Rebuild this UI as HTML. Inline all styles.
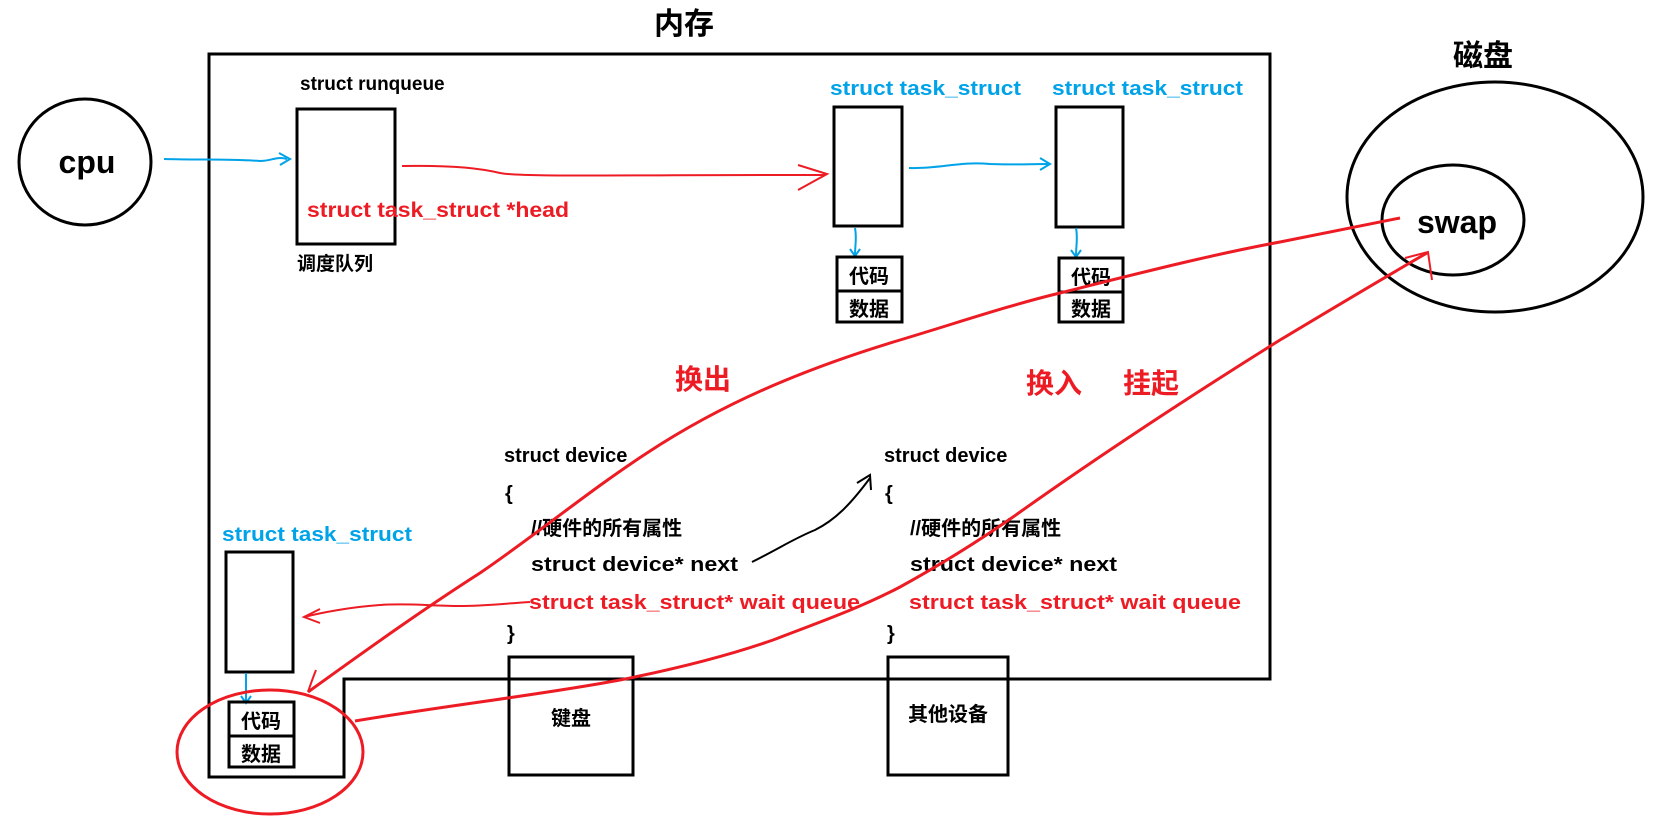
<!DOCTYPE html>
<html><head><meta charset="utf-8"><style>
html,body{margin:0;padding:0;background:#fff;}
svg{display:block;}
text{font-family:"Liberation Sans","Noto Sans CJK SC",sans-serif;font-weight:bold;}
</style></head><body>
<svg width="1664" height="816" viewBox="0 0 1664 816" xmlns="http://www.w3.org/2000/svg">
<rect width="1664" height="816" fill="#fff"/>
<!-- memory box -->
<path d="M209,54 H1270 V679 H344 V777 H209 Z" fill="none" stroke="#000" stroke-width="3"/>
<text x="684" y="34" font-size="30" text-anchor="middle" fill="#000">内存</text>
<!-- cpu -->
<ellipse cx="85" cy="162" rx="66" ry="63" fill="none" stroke="#000" stroke-width="3"/>
<text x="87" y="173" font-size="32" text-anchor="middle" fill="#000">cpu</text>
<path d="M164,159 C200,160 230,159 260,161 C272,161 276,156 287,159" fill="none" stroke="#00a2e8" stroke-width="2"/>
<path d="M279,153 L290,159 L280,165" fill="none" stroke="#00a2e8" stroke-width="2"/>
<!-- runqueue -->
<text x="300" y="90" font-size="19" fill="#000">struct runqueue</text>
<rect x="297" y="109" width="98" height="135" fill="none" stroke="#000" stroke-width="3"/>
<text x="307" y="217" font-size="21" fill="#ed1c24" textLength="262" lengthAdjust="spacingAndGlyphs">struct task_struct *head</text>
<text x="297" y="270" font-size="19" fill="#000">调度队列</text>
<path d="M402,166 C450,165 480,168 500,173 C520,177 600,175 825,175" fill="none" stroke="#ed1c24" stroke-width="2"/>
<path d="M798,165 L827,174 L798,190" fill="none" stroke="#ed1c24" stroke-width="2"/>
<!-- task structs top -->
<text x="830" y="95" font-size="20" fill="#00a2e8" textLength="191" lengthAdjust="spacingAndGlyphs">struct task_struct</text>
<text x="1052" y="95" font-size="20" fill="#00a2e8" textLength="191" lengthAdjust="spacingAndGlyphs">struct task_struct</text>
<rect x="834" y="107" width="68" height="119" fill="none" stroke="#000" stroke-width="3"/>
<rect x="1056" y="107" width="67" height="120" fill="none" stroke="#000" stroke-width="3"/>
<path d="M909,168 C940,169 960,161 990,164 C1010,165 1030,164 1050,164" fill="none" stroke="#00a2e8" stroke-width="2"/>
<path d="M1040,158 L1050,164 L1040,170" fill="none" stroke="#00a2e8" stroke-width="2"/>
<path d="M855,228 C857,238 855,246 855,255" fill="none" stroke="#00a2e8" stroke-width="2"/>
<path d="M850,249 L855,256 L860,249" fill="none" stroke="#00a2e8" stroke-width="2"/>
<path d="M1076,228 C1078,238 1076,246 1076,256" fill="none" stroke="#00a2e8" stroke-width="2"/>
<path d="M1071,250 L1076,257 L1081,250" fill="none" stroke="#00a2e8" stroke-width="2"/>
<rect x="837" y="257" width="65" height="65" fill="none" stroke="#000" stroke-width="3"/>
<line x1="837" y1="291" x2="902" y2="291" stroke="#000" stroke-width="3"/>
<text x="869" y="283" font-size="20" text-anchor="middle" fill="#000">代码</text>
<text x="869" y="316" font-size="20" text-anchor="middle" fill="#000">数据</text>
<rect x="1059" y="258" width="64" height="64" fill="none" stroke="#000" stroke-width="3"/>
<line x1="1059" y1="292" x2="1123" y2="292" stroke="#000" stroke-width="3"/>
<text x="1091" y="284" font-size="20" text-anchor="middle" fill="#000">代码</text>
<text x="1091" y="316" font-size="20" text-anchor="middle" fill="#000">数据</text>
<!-- disk -->
<text x="1483" y="66" font-size="30" text-anchor="middle" fill="#000">磁盘</text>
<ellipse cx="1495" cy="197" rx="148" ry="115" fill="none" stroke="#000" stroke-width="3"/>
<ellipse cx="1453" cy="220" rx="71" ry="55" fill="none" stroke="#000" stroke-width="3"/>
<text x="1457" y="233" font-size="32" text-anchor="middle" fill="#000">swap</text>
<!-- labels -->
<text x="703" y="389" font-size="28" text-anchor="middle" fill="#ed1c24">换出</text>
<text x="1054" y="393" font-size="28" text-anchor="middle" fill="#ed1c24">换入</text>
<text x="1151" y="393" font-size="28" text-anchor="middle" fill="#ed1c24">挂起</text>
<!-- device 1 -->
<text x="504" y="462" font-size="20" fill="#000">struct device</text>
<text x="505" y="500" font-size="20" fill="#000">{</text>
<text x="531" y="535" font-size="20" fill="#000">//硬件的所有属性</text>
<text x="531" y="571" font-size="20" fill="#000" textLength="207" lengthAdjust="spacingAndGlyphs">struct device* next</text>
<text x="529" y="609" font-size="20" fill="#ed1c24" textLength="331" lengthAdjust="spacingAndGlyphs">struct task_struct* wait queue</text>
<text x="507" y="640" font-size="20" fill="#000">}</text>
<!-- device 2 -->
<text x="884" y="462" font-size="20" fill="#000">struct device</text>
<text x="885" y="500" font-size="20" fill="#000">{</text>
<text x="910" y="535" font-size="20" fill="#000">//硬件的所有属性</text>
<text x="910" y="571" font-size="20" fill="#000" textLength="207" lengthAdjust="spacingAndGlyphs">struct device* next</text>
<text x="909" y="609" font-size="20" fill="#ed1c24" textLength="332" lengthAdjust="spacingAndGlyphs">struct task_struct* wait queue</text>
<text x="887" y="640" font-size="20" fill="#000">}</text>
<!-- black next arrow -->
<path d="M752,562 C780,548 795,538 815,530 C835,520 850,505 870,478" fill="none" stroke="#000" stroke-width="2"/>
<path d="M857,483 L870,475 L871,490" fill="none" stroke="#000" stroke-width="2"/>
<!-- bottom-left task -->
<text x="222" y="541" font-size="20" fill="#00a2e8" textLength="190" lengthAdjust="spacingAndGlyphs">struct task_struct</text>
<rect x="226" y="552" width="67" height="120" fill="none" stroke="#000" stroke-width="3"/>
<path d="M246,673 L246,702" fill="none" stroke="#00a2e8" stroke-width="2"/>
<path d="M241,696 L246,703 L251,696" fill="none" stroke="#00a2e8" stroke-width="2"/>
<rect x="229" y="702" width="65" height="65" fill="none" stroke="#000" stroke-width="3"/>
<line x1="229" y1="736" x2="294" y2="736" stroke="#000" stroke-width="3"/>
<text x="261" y="728" font-size="20" text-anchor="middle" fill="#000">代码</text>
<text x="261" y="761" font-size="20" text-anchor="middle" fill="#000">数据</text>
<path d="M530,602 C500,604 480,606 460,606 C430,606 410,603 380,605 C350,607 320,613 304,617" fill="none" stroke="#ed1c24" stroke-width="2"/>
<path d="M320,609 L304,617 L320,623" fill="none" stroke="#ed1c24" stroke-width="2"/>
<!-- device boxes -->
<rect x="509" y="657" width="124" height="118" fill="none" stroke="#000" stroke-width="3"/>
<text x="571" y="725" font-size="20" text-anchor="middle" fill="#000">键盘</text>
<rect x="888" y="657" width="120" height="118" fill="none" stroke="#000" stroke-width="3"/>
<text x="948" y="721" font-size="20" text-anchor="middle" fill="#000">其他设备</text>
<!-- red ellipse -->
<ellipse cx="270" cy="752" rx="93" ry="62" fill="none" stroke="#ed1c24" stroke-width="3"/>
<!-- swap out curve -->
<path d="M308,692 C380,640 430,605 480,573 C540,532 590,490 647,453 C720,405 800,370 900,340 C960,322 1010,305 1060,293 C1140,273 1210,255 1280,242 C1330,232 1370,224 1400,218" fill="none" stroke="#ed1c24" stroke-width="3"/>
<path d="M316,670 C312,680 310,686 308,692" fill="none" stroke="#ed1c24" stroke-width="2"/>
<!-- swap in curve -->
<path d="M355,721 C450,705 540,695 620,680 C680,668 730,655 773,640 C820,622 860,608 900,587 C940,565 980,540 1013,517 C1100,455 1200,390 1280,340 C1330,310 1380,280 1427,253" fill="none" stroke="#ed1c24" stroke-width="3"/>
<path d="M1405,258 L1428,252 L1432,280" fill="none" stroke="#ed1c24" stroke-width="2"/>
</svg>
</body></html>
